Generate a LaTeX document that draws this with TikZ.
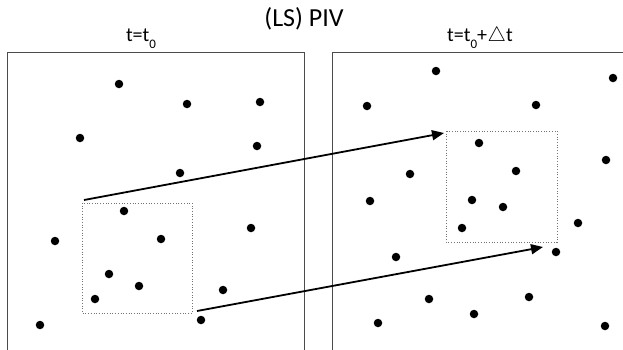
\documentclass[tikz,border=0pt]{standalone}
\usepackage{fontspec}
\setmainfont{Carlito}
\usetikzlibrary{arrows.meta}
\newcommand{\subzero}{\raisebox{-7.5pt}{\fontsize{13}{13}\selectfont 0}}
\begin{document}
\begin{tikzpicture}[x=1pt,y=-1pt,
  frame/.style={draw=black!70,line width=0.9pt},
  window/.style={draw=black!55,line width=0.7pt,dotted},
  dot/.style={circle,fill=black,inner sep=0pt,minimum size=8.5pt},
  vec/.style={line width=1.8pt,-{Triangle[length=12pt,width=10pt]}},
  lbl/.style={font=\fontsize{20}{20}\selectfont,anchor=base,inner sep=0pt}]
\useasboundingbox (0,0) rectangle (623,349);
% titles
\node[font=\fontsize{26}{26}\selectfont,anchor=base] (title) at (304,26) {(LS) PIV};
\node[lbl] (tl) at (141,41) {t=t\subzero};
\node[lbl] (tr) at (480,41) {t=t\subzero+\kern0.5pt$\triangle$t};
% frames
\draw[frame] (7,355) -- (7,52) -- (304,52) -- (304,355);
\draw[frame] (332,355) -- (332,52) -- (630,52);
% interrogation windows
\draw[window] (82,203) rectangle (192,313);
\draw[window] (446,131) rectangle (557,242);
% left particles
\foreach \n/\x/\y in {1/119/84,2/187/104,3/260/102,4/80/138,5/257/146,6/180/173,
  7/124/211,8/161/239,9/55/241,10/251/228,11/109/274,12/139/286,13/95/299,
  14/223/290,15/40/325,16/201/320}
  \node[dot] (l\n) at (\x,\y) {};
% right particles
\foreach \n/\x/\y in {1/436/71,2/613/78,3/367/106,4/536/105,5/479/143,6/606/160,
  7/410/174,8/516/171,9/370/201,10/472/200,11/503/207,12/462/228,13/578/223,
  14/396/257,15/556/252,16/429/299,17/529/297,18/474/314,19/378/323,20/605/326}
  \node[dot] (r\n) at (\x,\y) {};
% displacement arrows
\coordinate (a1s) at (84,200);
\coordinate (a1e) at (444,133);
\coordinate (a2s) at (197,311);
\coordinate (a2e) at (543,247);
\draw[vec] (a1s) -- (a1e);
\draw[vec] (a2s) -- (a2e);
\end{tikzpicture}
\end{document}
